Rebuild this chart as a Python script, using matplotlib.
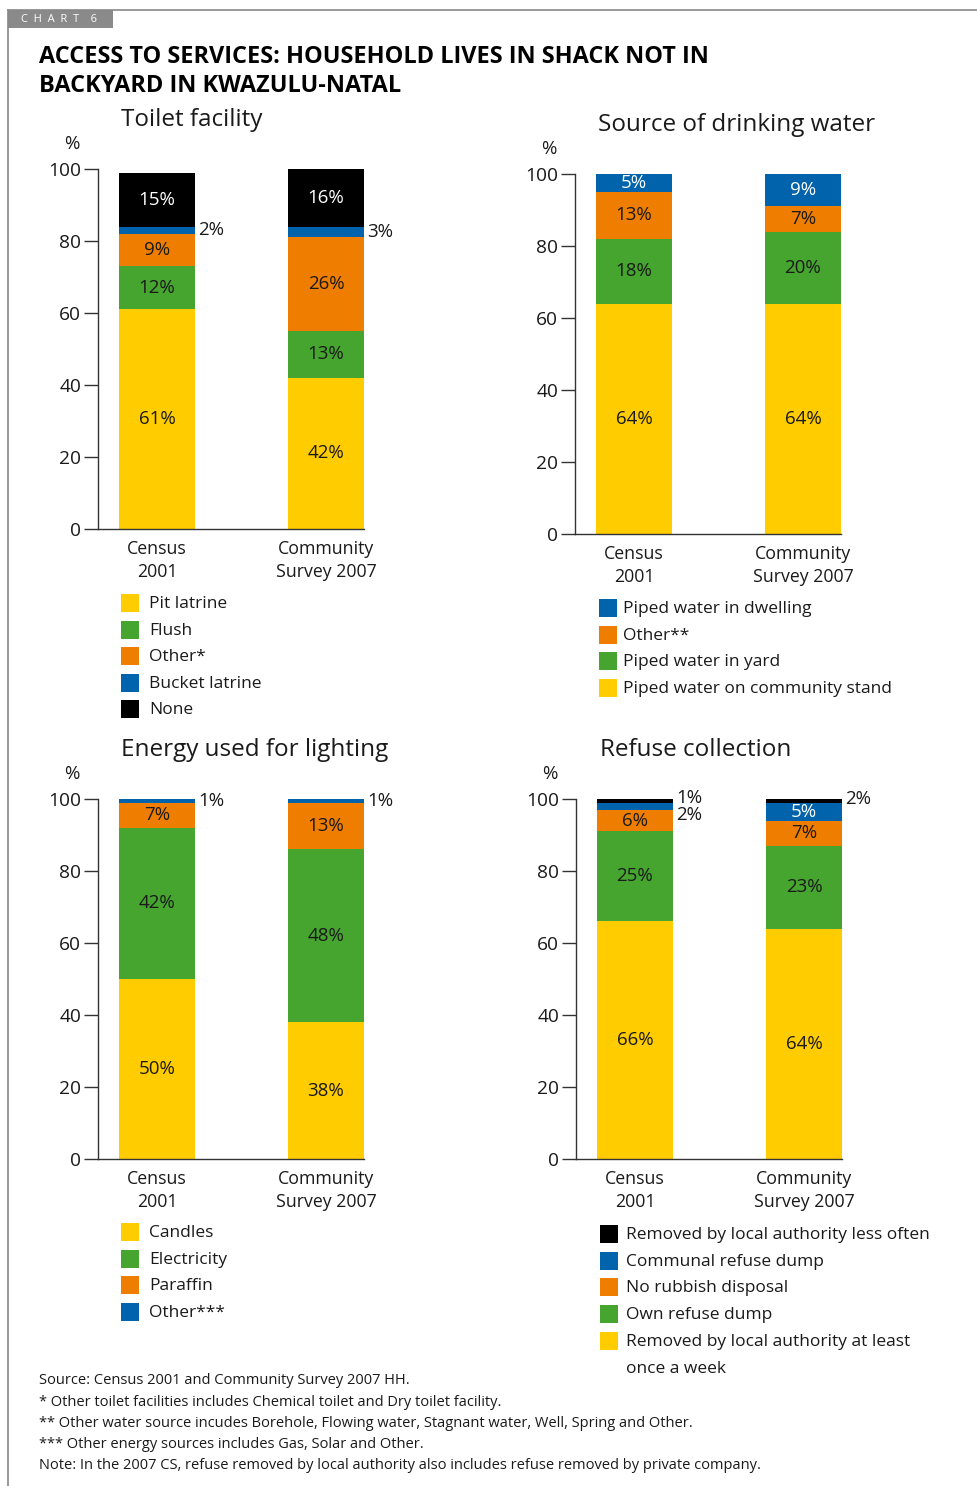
import numpy as np
import matplotlib
matplotlib.use("Agg")
import matplotlib.pyplot as plt
from matplotlib.patches import Rectangle

plt.rcParams['font.family'] = ['Open Sans', 'DejaVu Sans']

# data
groups = ["Census\n2001", "Community\nSurvey 2007"]

toilet_cats = ["Pit latrine", "Flush", "Other*", "Bucket latrine", "None"]
toilet_census = [61, 12, 9, 2, 15]
toilet_cs = [42, 13, 26, 3, 16]

water_cats = ["Piped water on community stand", "Piped water in yard", "Other**", "Piped water in dwelling"]
water_census = [64, 18, 13, 5]
water_cs = [64, 20, 7, 9]

energy_cats = ["Candles", "Electricity", "Paraffin", "Other***"]
energy_census = [50, 42, 7, 1]
energy_cs = [38, 48, 13, 1]

refuse_cats = ["Removed by local authority at least\nonce a week", "Own refuse dump", "No rubbish disposal",
               "Communal refuse dump", "Removed by local authority less often"]
refuse_census = [66, 25, 6, 2, 1]
refuse_cs = [64, 23, 7, 5, 2]

notes = ["Source: Census 2001 and Community Survey 2007 HH.",
         "* Other toilet facilities includes Chemical toilet and Dry toilet facility.",
         "** Other water source incudes Borehole, Flowing water, Stagnant water, Well, Spring and Other.",
         "*** Other energy sources includes Gas, Solar and Other.",
         "Note: In the 2007 CS, refuse removed by local authority also includes refuse removed by private company."]

YEL, GRN, ORG, BLU, BLK = "#FFCC00", "#45A52F", "#EE7D00", "#0063AB", "#000000"
TXT = "#1a1a1a"

W, H = 978, 1486
fig = plt.figure(figsize=(W / 100, H / 100), dpi=100)

def fx(x):
    return x / W

def fy(y):
    return 1 - y / H

# frame and tab
fig.add_artist(plt.Line2D([fx(8), 1], [fy(10), fy(10)], color="#888888", lw=1.2))
fig.add_artist(plt.Line2D([fx(8), fx(8)], [fy(10), 0], color="#888888", lw=1.2))
fig.add_artist(Rectangle((fx(8), fy(28)), fx(105), 18 / H, color="#8a8a8a", lw=0))
fig.text(fx(21), fy(19.5), "C  H  A  R  T    6", color="white", fontsize=8, va="center", ha="left")

fig.text(fx(39), fy(57), "ACCESS TO SERVICES: HOUSEHOLD LIVES IN SHACK NOT IN", fontsize=16.9,
         fontweight="bold", color="black", va="center")
fig.text(fx(39), fy(86), "BACKYARD IN KWAZULU-NATAL", fontsize=16.9, fontweight="bold",
         color="black", va="center")


def stacked(x0, y0, title, tx, ty, census, cs, colors):
    # x0 = y-axis pixel, y0 = zero line pixel
    ax = fig.add_axes([fx(x0), fy(y0), 266 / W, 360 / H])
    bw = 0.45
    for i, vals in enumerate([census, cs]):
        bottom = 0
        outs = []
        for v, c in zip(vals, colors):
            ax.bar(i, v, bottom=bottom, width=bw, color=c, linewidth=0)
            mid = bottom + v / 2
            if v < 4:
                outs.append([mid, v])
            else:
                tc = "white" if c in (BLK, BLU) else TXT
                ax.text(i, mid, f"{v}%", ha="center", va="center", fontsize=13.5, color=tc)
            bottom += v
        if len(outs) == 2 and outs[1][0] - outs[0][0] < 5:
            m = (outs[0][0] + outs[1][0]) / 2
            outs[0][0], outs[1][0] = m - 3.3, m + 1.6
        for mid, v in outs:
            ax.text(i + bw / 2 + 0.02, mid, f"{v}%", ha="left", va="center", fontsize=13.5,
                    color=TXT, clip_on=False)
    ax.set_xlim(-0.349, 1.225)
    ax.set_ylim(0, 100)
    ax.set_yticks(np.arange(0, 101, 20))
    ax.set_xticks([0, 1])
    ax.set_xticklabels(groups, fontsize=12.8, color=TXT, linespacing=1.32)
    ax.tick_params(axis="x", length=0, pad=8)
    ax.tick_params(axis="y", length=10, width=1, color="#333333", labelsize=13.8, labelcolor=TXT, pad=2)
    for s in ["top", "right"]:
        ax.spines[s].set_visible(False)
    for s in ["left", "bottom"]:
        ax.spines[s].set_color("#333333")
        ax.spines[s].set_linewidth(1)
    ax.text(-0.098, 1.045, "%", transform=ax.transAxes, fontsize=13.5, color=TXT, ha="center", va="bottom")
    fig.text(fx(tx), fy(ty + 1), title, fontsize=17.5, color=TXT, va="center", ha="left")
    return ax


def legend(x, y, labels, colors, gap, step=26.6):
    for k, (lab, c) in enumerate(zip(labels, colors)):
        yy = y + k * step
        fig.add_artist(Rectangle((fx(x), fy(yy + 9)), 18 / W, 18 / H, color=c, lw=0))
        fig.text(fx(x + gap), fy(yy - 7), lab, fontsize=12.5, color=TXT, va="top", ha="left",
                 linespacing=1.95)


toilet_cols = [YEL, GRN, ORG, BLU, BLK]
water_cols = [YEL, GRN, ORG, BLU]
energy_cols = [YEL, GRN, ORG, BLU]
refuse_cols = [YEL, GRN, ORG, BLU, BLK]

stacked(98, 529, "Toilet facility", 121, 119, toilet_census, toilet_cs, toilet_cols)
stacked(575, 534, "Source of drinking water", 598, 124, water_census, water_cs, water_cols)
stacked(98, 1159, "Energy used for lighting", 121, 749, energy_census, energy_cs, energy_cols)
stacked(576, 1159, "Refuse collection", 600, 749, refuse_census, refuse_cs, refuse_cols)

legend(121, 603, toilet_cats, toilet_cols, 28)
legend(599, 608, water_cats[::-1], water_cols[::-1], 24)
legend(121, 1232, energy_cats, energy_cols, 28)
legend(600, 1234, refuse_cats[::-1], refuse_cols[::-1], 26, step=26.7)

for k, n in enumerate(notes):
    fig.text(fx(39), fy(1381 + k * 21.2), n, fontsize=10.5, color=TXT, va="center", ha="left")

fig.savefig("out.png", dpi=100)
